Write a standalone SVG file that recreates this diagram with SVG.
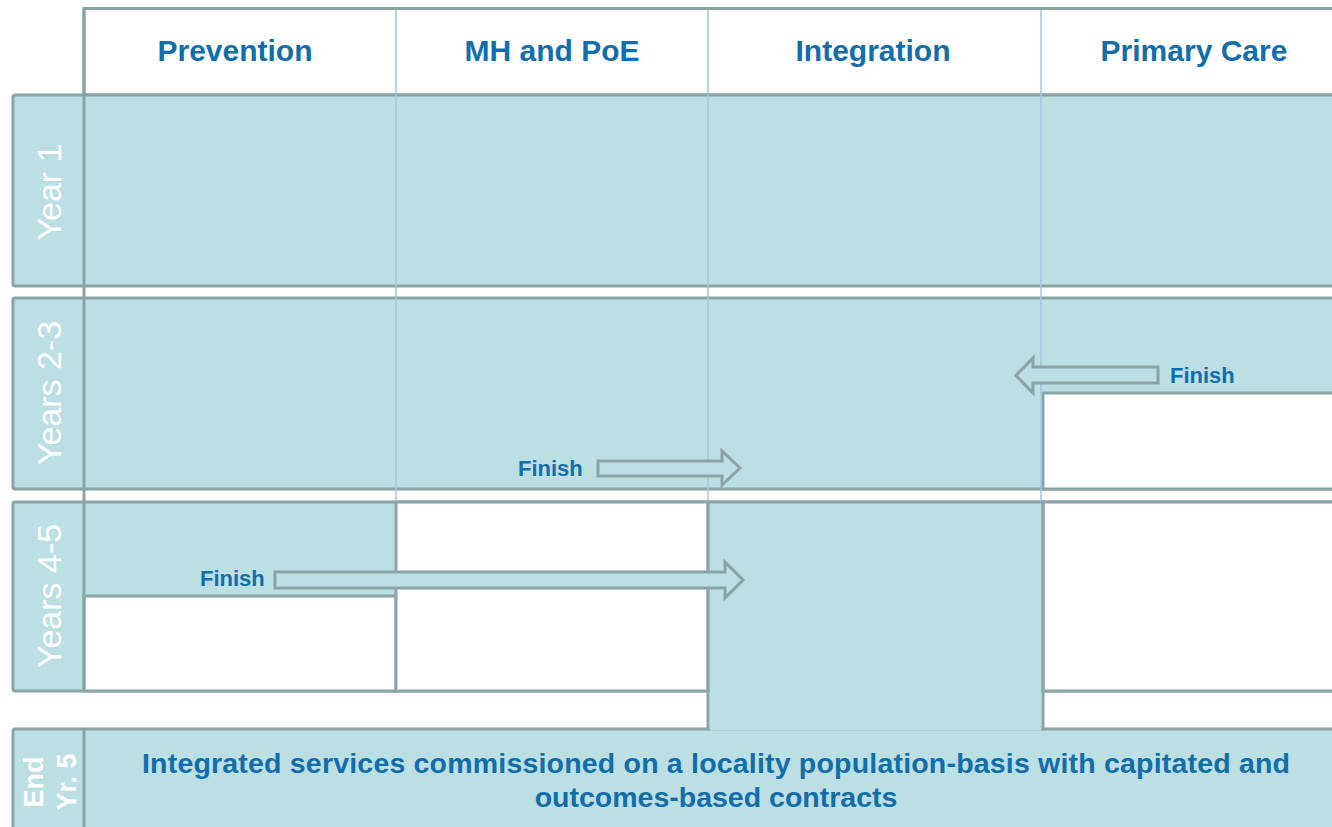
<svg xmlns="http://www.w3.org/2000/svg" width="1332" height="827" viewBox="0 0 1332 827">
<style>
.bd{stroke:#8aa3a5;stroke-width:3}
.cy{fill:#bbdfe3}
.wh{fill:#ffffff}
.col{stroke:#a4cade;stroke-width:1.6}
.hd{font-family:"Liberation Sans",Arial,sans-serif;font-weight:bold;font-size:30px;fill:#126dab;text-anchor:middle}
.fin{font-family:"Liberation Sans",Arial,sans-serif;font-weight:bold;font-size:22px;fill:#126dab}
.lbl{font-family:"Liberation Sans",Arial,sans-serif;font-size:34px;fill:#ffffff;text-anchor:middle}
.lblb{font-family:"Liberation Sans",Arial,sans-serif;font-weight:bold;font-size:27px;fill:#ffffff;text-anchor:middle}
.bt{font-family:"Liberation Sans",Arial,sans-serif;font-weight:bold;font-size:28.5px;fill:#126dab;text-anchor:middle}
.arr{fill:#bbdfe3;stroke:#8aa3a5;stroke-width:3;stroke-linejoin:miter}
</style>
<rect width="1332" height="827" fill="#ffffff"/>
<g id="header">
  <rect x="84" y="8.5" width="1270" height="86.5" class="wh bd"/>
  <text x="235" y="61" class="hd">Prevention</text>
  <text x="552" y="61" class="hd">MH and PoE</text>
  <text x="873" y="61" class="hd">Integration</text>
  <text x="1194" y="61" class="hd">Primary Care</text>
</g>
<g id="row-year1">
  <rect x="13" y="95" width="1340" height="191" rx="2" class="cy bd"/>
</g>
<g id="row-years23">
  <rect x="13" y="298" width="1340" height="191" rx="2" class="cy bd"/>
  <rect x="1043" y="393" width="310" height="96" class="wh bd"/>
</g>
<g id="row-years45">
  <rect x="13" y="502" width="1340" height="189" rx="2" class="cy bd"/>
  <rect x="84" y="596" width="312" height="95" class="wh bd"/>
  <rect x="396" y="502" width="312" height="189" class="wh bd"/>
  <rect x="1043" y="502" width="310" height="189" class="wh bd"/>
</g>
<g id="row-end">
  <rect x="13" y="729" width="1340" height="130" rx="2" class="cy bd"/>
  <line x1="84" y1="729" x2="84" y2="827" class="bd"/>
</g>
<g id="integration-merge">
  <rect x="709.5" y="500.5" width="332" height="230" class="cy"/>
  <line x1="708" y1="502" x2="708" y2="730.5" class="bd"/>
  <line x1="1043" y1="502" x2="1043" y2="730.5" class="bd"/>
  <line x1="706.5" y1="502" x2="1044.5" y2="502" class="bd"/>
</g>
<g id="column-lines">
  <line x1="396" y1="10" x2="396" y2="500.5" class="col"/>
  <line x1="708" y1="10" x2="708" y2="500.5" class="col"/>
  <line x1="1041" y1="10" x2="1041" y2="500.5" class="col"/>
  <line x1="84" y1="8" x2="84" y2="691" class="bd"/>
</g>
<g id="row-labels">
  <text transform="translate(61,192) rotate(-90)" class="lbl">Year 1</text>
  <text transform="translate(61,393) rotate(-90)" class="lbl">Years 2-3</text>
  <text transform="translate(61,596) rotate(-90)" class="lbl">Years 4-5</text>
  <text transform="translate(43,782) rotate(-90)" class="lblb">End</text>
  <text transform="translate(76,782) rotate(-90)" class="lblb">Yr. 5</text>
</g>
<g id="outcome-text">
  <text x="716" y="773" class="bt" textLength="1148" lengthAdjust="spacing">Integrated services commissioned on a locality population-basis with capitated and</text>
  <text x="716" y="807" class="bt">outcomes-based contracts</text>
</g>
<g id="connectors">
  <polygon points="598,461 722,461 722,451 740,468 722,485 722,476 598,476" class="arr"/>
  <polygon points="1158,367 1033,367 1033,358 1016,375.5 1033,393 1033,383 1158,383" class="arr"/>
  <polygon points="275,572 725,572 725,562 743,580 725,598 725,588 275,588" class="arr"/>
  <text x="518" y="476" class="fin">Finish</text>
  <text x="1170" y="383" class="fin">Finish</text>
  <text x="200" y="586" class="fin">Finish</text>
</g>
</svg>
